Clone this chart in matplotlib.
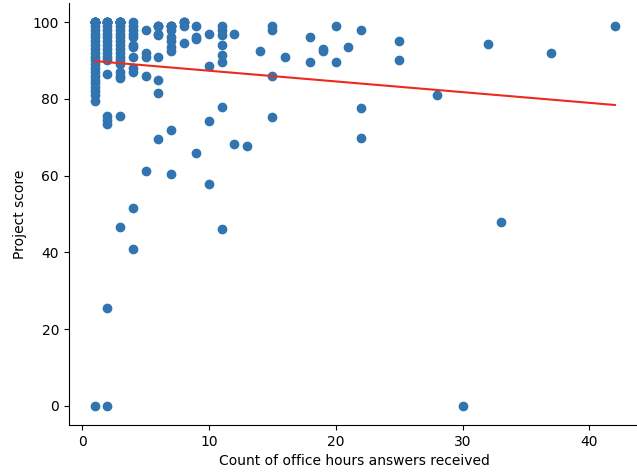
import numpy as np
import matplotlib
matplotlib.use('Agg')
import matplotlib.pyplot as plt

# office hours answers received -> project score, grouped by answer count
# (many scores of 100 overlap in the low-count columns)
answers = [1] * 29 + [2] * 22 + [3] * 24 + [4] * 12 + [5] * 5 + [6] * 9 \
    + [7] * 11 + [8] * 5 + [9] * 4 + [10] * 4 + [11] * 8 + [12] * 2 + [13] \
    + [14] + [15] * 4 + [16] + [18] * 2 + [19] * 2 + [20] * 2 + [21] \
    + [22] * 3 + [25] * 2 + [28] + [30] + [32] + [33] + [37] + [42]
scores = [100, 100, 100, 100, 100, 100, 100,
          100, 99, 98, 97, 96, 95, 94, 93, 92, 91, 90, 89, 88, 87, 86, 85,
          84, 83, 82, 81, 79.5, 0,
          100, 100, 100, 100, 100,
          100, 99, 98, 97, 96, 95, 94, 93, 92, 91, 90, 86.5, 75.5, 74.5,
          73.5, 25.5, 0,
          100, 100, 100, 100, 100, 100, 100,
          100, 99, 98, 97, 96, 95, 94, 93, 92, 91, 90, 89, 87, 86, 85.5,
          75.5, 46.5,
          100, 99, 98, 97, 96, 94, 93.5, 91, 88, 87, 51.5, 41,
          98, 92, 91, 86, 61.3,
          99, 99,
          99, 97, 96.5, 91, 85, 81.5, 69.5,
          99, 99, 99,
          99, 98, 96, 95, 93.5, 92.5, 72, 60.3,
          100, 100,
          100, 99, 94.5,
          99, 96, 95.5, 66,
          97, 88.5, 74.3, 57.8,
          99, 98, 96.5, 94, 91.5, 89.5, 77.8, 46,
          97, 68.3,
          67.7,
          92.5,
          99, 98, 86, 75.3,
          91,
          96, 89.5,
          93, 92.5,
          99, 89.5,
          93.5,
          98, 77.5, 69.7,
          95, 90,
          81,
          0,
          94.3,
          48,
          92,
          99]

x = np.array(answers, dtype=float)
y = np.array(scores, dtype=float)

fig = plt.figure(figsize=(6.37, 4.75), dpi=100)
ax = fig.add_axes([0.108, 0.105, 0.898, 0.889])
ax.scatter(x, y, color='#3274b0')

# least squares trend line
slope, intercept = np.polyfit(x, y, 1)
xs = np.array([x.min(), x.max()])
ax.plot(xs, slope * xs + intercept, color='#ee2a1e')

ax.spines['top'].set_visible(False)
ax.spines['right'].set_visible(False)
ax.set_xlabel('Count of office hours answers received')
ax.set_ylabel('Project score')

fig.savefig('out.png')
